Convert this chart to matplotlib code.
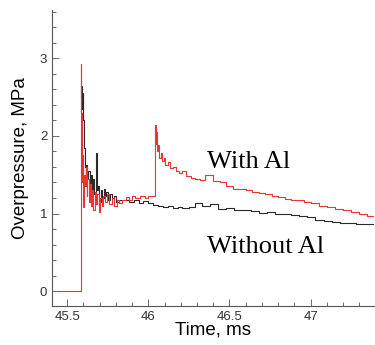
import matplotlib
matplotlib.use("Agg")
import matplotlib.pyplot as plt
from matplotlib.ticker import MultipleLocator, FormatStrFormatter

# time (ms) / overpressure (MPa)
t_with = [45.44, 45.583, 45.587, 45.590, 45.593, 45.597, 45.600, 45.605, 45.610, 45.615,
          45.620, 45.625, 45.632, 45.640, 45.648, 45.655, 45.662, 45.670, 45.678, 45.686,
          45.694, 45.702, 45.712, 45.722, 45.735, 45.748, 45.760, 45.775, 45.790, 45.805,
          45.82, 45.84, 45.86, 45.88, 45.90, 45.92, 45.95, 45.98, 46.00, 46.02,
          46.043, 46.047, 46.05, 46.055, 46.06, 46.068, 46.075, 46.085, 46.095, 46.105,
          46.12, 46.135, 46.15, 46.17, 46.19, 46.21, 46.23, 46.26, 46.29, 46.32,
          46.35, 46.40, 46.44, 46.48, 46.52, 46.56, 46.60, 46.64, 46.68, 46.72,
          46.76, 46.80, 46.84, 46.88, 46.92, 46.96, 47.00, 47.05, 47.10, 47.15,
          47.20, 47.25, 47.30, 47.35, 47.39]
p_with = [0.0, 2.92, 2.30, 1.95, 1.40, 1.75, 1.08, 1.50, 1.35, 1.60,
          1.22, 1.45, 1.15, 1.38, 1.10, 1.30, 1.05, 1.28, 1.12, 1.25,
          1.02, 1.20, 1.10, 1.22, 1.15, 1.25, 1.12, 1.20, 1.10, 1.18,
          1.14, 1.17, 1.21, 1.18, 1.22, 1.20, 1.23, 1.20, 1.23, 1.22,
          2.14, 1.90, 2.05, 1.80, 1.88, 1.72, 1.78, 1.68, 1.72, 1.62,
          1.66, 1.58, 1.60, 1.55, 1.52, 1.55, 1.48, 1.46, 1.45, 1.43,
          1.49, 1.42, 1.40, 1.36, 1.32, 1.31, 1.30, 1.28, 1.26, 1.25,
          1.22, 1.21, 1.19, 1.18, 1.17, 1.15, 1.13, 1.10, 1.08, 1.06,
          1.04, 1.02, 0.99, 0.97, 0.97]

t_without = [45.583, 45.588, 45.592, 45.596, 45.600, 45.604, 45.608, 45.613, 45.618, 45.623,
             45.630, 45.638, 45.645, 45.652, 45.660, 45.668, 45.676, 45.682, 45.690, 45.698,
             45.706, 45.715, 45.724, 45.733, 45.742, 45.752, 45.762, 45.775, 45.79, 45.80,
             45.82, 45.85, 45.88, 45.91, 45.94, 45.97, 46.00, 46.03, 46.06, 46.09,
             46.12, 46.15, 46.18, 46.21, 46.25, 46.29, 46.33, 46.38, 46.43, 46.48,
             46.53, 46.58, 46.63, 46.68, 46.73, 46.78, 46.83, 46.88, 46.93, 46.98,
             47.03, 47.08, 47.13, 47.18, 47.23, 47.28, 47.39]
p_without = [2.50, 2.64, 2.35, 2.55, 2.20, 1.85, 1.60, 1.40, 1.62, 1.45,
             1.55, 1.38, 1.50, 1.30, 1.45, 1.25, 1.78, 1.30, 1.35, 1.15,
             1.30, 1.20, 1.32, 1.22, 1.28, 1.18, 1.25, 1.20, 1.23, 1.15,
             1.18, 1.17, 1.15, 1.17, 1.14, 1.16, 1.13, 1.11, 1.10, 1.08,
             1.10, 1.07, 1.08, 1.07, 1.09, 1.13, 1.10, 1.12, 1.06, 1.07,
             1.04, 1.05, 1.03, 1.01, 1.02, 1.00, 0.99, 0.98, 0.97, 0.95,
             0.92, 0.91, 0.89, 0.88, 0.88, 0.87, 0.86]

fig = plt.figure(figsize=(3.75, 3.45), dpi=100)
ax = fig.add_axes([0.139, 0.113, 0.858, 0.858])

ax.plot(t_without, p_without, color="#2a2a2a", lw=0.8, drawstyle="steps-post")
ax.plot(t_with, p_with, color="#ee3333", lw=0.8, drawstyle="steps-post")

ax.set_xlim(45.407, 47.39)
ax.set_ylim(-0.19, 3.62)

ax.xaxis.set_major_locator(MultipleLocator(0.5))
ax.xaxis.set_minor_locator(MultipleLocator(0.1))
ax.xaxis.set_major_formatter(FormatStrFormatter("%g"))
ax.yaxis.set_major_locator(MultipleLocator(1))
ax.yaxis.set_minor_locator(MultipleLocator(0.2))

for s in ["top", "right"]:
    ax.spines[s].set_visible(False)
for s in ["left", "bottom"]:
    ax.spines[s].set_color("#555555")
    ax.spines[s].set_linewidth(0.8)

ax.tick_params(which="both", direction="in", colors="#555555", labelcolor="#333333",
               labelsize=9.5, width=0.6)
ax.tick_params(which="major", length=5)
ax.tick_params(which="minor", length=3)
for lab in ax.get_xticklabels() + ax.get_yticklabels():
    lab.set_family("Liberation Sans")

ax.set_xlabel("Time, ms", family="Liberation Sans", fontsize=13.5, labelpad=-1)
ax.set_ylabel("Overpressure, MPa", family="Liberation Sans", fontsize=13.5, labelpad=8)

ax.text(46.36, 1.59, "With Al", family="Liberation Serif", fontsize=19)
ax.text(46.36, 0.49, "Without Al", family="Liberation Serif", fontsize=19)

fig.savefig("out.png", dpi=100)
